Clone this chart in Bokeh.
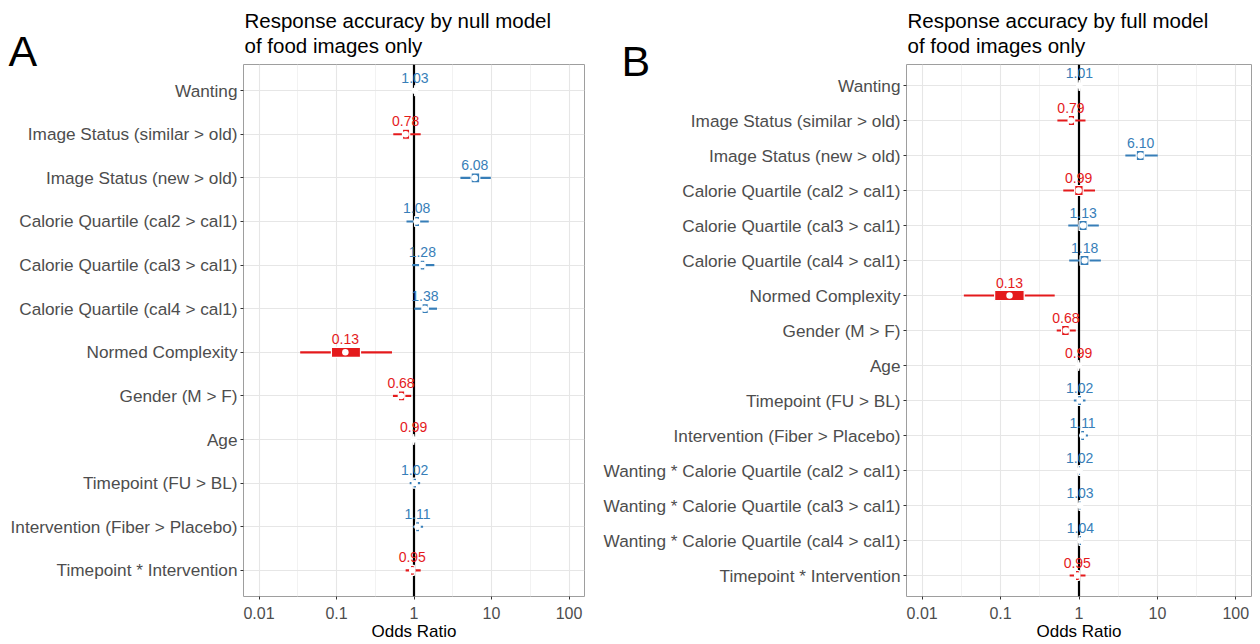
import numpy as np
from bokeh.plotting import figure
from bokeh.models import (FixedTicker, CustomJSTickFormatter, Span, ColumnDataSource, GridBox)
from bokeh.core.properties import value
from bokeh.embed import file_html
from bokeh.resources import INLINE

# ---------------- data ----------------
labels_a = ["Wanting", "Image Status (similar > old)", "Image Status (new > old)",
            "Calorie Quartile (cal2 > cal1)", "Calorie Quartile (cal3 > cal1)",
            "Calorie Quartile (cal4 > cal1)", "Normed Complexity", "Gender (M > F)", "Age",
            "Timepoint (FU > BL)", "Intervention (Fiber > Placebo)", "Timepoint * Intervention"]
est_a = [1.03, 0.78, 6.08, 1.08, 1.28, 1.38, 0.13, 0.68, 0.99, 1.02, 1.11, 0.95]
lo_a = [1.01, 0.54, 3.97, 0.80, 0.95, 1.01, 0.034, 0.535, 0.98, 0.88, 0.97, 0.78]
hi_a = [1.05, 1.22, 9.80, 1.55, 1.83, 1.98, 0.52, 0.92, 1.00, 1.20, 1.31, 1.22]
ilo_a = [1.02, 0.71, 5.46, 1.02, 1.20, 1.27, 0.086, 0.63, 0.985, 0.97, 1.05, 0.90]
ihi_a = [1.04, 0.88, 7.06, 1.18, 1.38, 1.53, 0.204, 0.76, 0.995, 1.08, 1.18, 1.01]

labels_b = ["Wanting", "Image Status (similar > old)", "Image Status (new > old)",
            "Calorie Quartile (cal2 > cal1)", "Calorie Quartile (cal3 > cal1)",
            "Calorie Quartile (cal4 > cal1)", "Normed Complexity", "Gender (M > F)", "Age",
            "Timepoint (FU > BL)", "Intervention (Fiber > Placebo)",
            "Wanting * Calorie Quartile (cal2 > cal1)", "Wanting * Calorie Quartile (cal3 > cal1)",
            "Wanting * Calorie Quartile (cal4 > cal1)", "Timepoint * Intervention"]
est_b = [1.01, 0.79, 6.10, 0.99, 1.13, 1.18, 0.13, 0.68, 0.99, 1.02, 1.11, 1.02, 1.03, 1.04, 0.95]
lo_b = [0.99, 0.53, 3.90, 0.63, 0.73, 0.75, 0.034, 0.52, 0.98, 0.86, 1.00, 0.95, 0.96, 0.96, 0.76]
hi_b = [1.03, 1.21, 10.1, 1.60, 1.79, 1.90, 0.49, 0.91, 1.00, 1.21, 1.30, 1.10, 1.11, 1.13, 1.21]
ilo_b = [1.00, 0.73, 5.37, 0.88, 1.00, 1.03, 0.084, 0.60, 0.985, 0.96, 1.05, 0.99, 1.00, 1.00, 0.90]
ihi_b = [1.02, 0.88, 6.78, 1.13, 1.27, 1.34, 0.20, 0.75, 0.995, 1.08, 1.18, 1.05, 1.06, 1.08, 1.01]

x_ticks = [0.01, 0.1, 1, 10, 100]
x_tick_labels = ["0.01", "0.1", "1", "10", "100"]
x_minor = [10 ** -2.5, 10 ** -1.5, 10 ** -0.5, 10 ** 0.5, 10 ** 1.5, 10 ** 2.5]

title_a = "Response accuracy by null model\n of food images only"
title_b = "Response accuracy by full model\n of food images only"
letter_a = "A"
letter_b = "B"

RED = "#E41A1C"
BLUE = "#377EB8"
FONT = "Liberation Sans"

H = 644
TOP, BOTTOM = 63, 48


def make_panel(labels, est, lo, hi, ilo, ihi, title, width, left, right):
    n = len(labels)
    ys = [n - i for i in range(n)]
    colors = [BLUE if e > 1 else RED for e in est]
    texts = [f"{e:.2f}" for e in est]
    mid = [(a + b) / 2 for a, b in zip(ilo, ihi)]
    wid = [b - a for a, b in zip(ilo, ihi)]
    src = ColumnDataSource(dict(y=ys, est=est, lo=lo, hi=hi, mid=mid, wid=wid,
                                color=colors, txt=texts))
    p = figure(width=width, height=H, x_axis_type="log",
               x_range=(10 ** -2.2, 10 ** 2.2), y_range=(0.4, n + 0.6),
               output_backend="svg", toolbar_location=None,
               min_border_left=left, min_border_right=right,
               min_border_top=TOP, min_border_bottom=BOTTOM)
    p.background_fill_color = "white"
    p.border_fill_color = None
    p.outline_line_color = "#9E9E9E"
    p.outline_line_width = 1

    # title
    p.title.text = title
    p.title.text_font = FONT
    p.title.text_font_size = "20.5px"
    p.title.text_font_style = "normal"
    p.title.text_color = "black"
    p.title.align = "left"
    p.title.offset = 1
    p.title.standoff = 14
    p.title.text_line_height = 1.1

    # grids
    p.xgrid.ticker = FixedTicker(ticks=x_ticks, minor_ticks=x_minor)
    p.xgrid.grid_line_color = "#E6E6E6"
    p.xgrid.grid_line_width = 1.1
    p.xgrid.minor_grid_line_color = "#F2F2F2"
    p.xgrid.minor_grid_line_width = 1
    p.ygrid.ticker = FixedTicker(ticks=ys)
    p.ygrid.grid_line_color = "#E6E6E6"
    p.ygrid.grid_line_width = 1.1

    # axes
    p.xaxis.ticker = FixedTicker(ticks=x_ticks, minor_ticks=[])
    p.xaxis.formatter = CustomJSTickFormatter(
        args=dict(vals=x_ticks, labs=x_tick_labels),
        code="for (let i = 0; i < vals.length; i++) {"
             " if (Math.abs(Math.log10(tick) - Math.log10(vals[i])) < 1e-6) return labs[i]; }"
             " return '';")
    p.yaxis.ticker = FixedTicker(ticks=ys, minor_ticks=[])
    p.yaxis.formatter = CustomJSTickFormatter(
        args=dict(labs=labels, n=n),
        code="const i = Math.round(n - tick); return (i >= 0 && i < labs.length) ? labs[i] : '';")
    for ax in (p.xaxis[0], p.yaxis[0]):
        ax.axis_line_color = None
        ax.major_tick_line_color = "#333333"
        ax.major_tick_out = 3
        ax.major_tick_in = 0
        ax.minor_tick_line_color = None
        ax.major_label_text_font = FONT
        ax.major_label_text_color = "#4D4D4D"
    p.yaxis.major_label_standoff = 3
    p.xaxis.major_label_standoff = 7
    p.yaxis.major_label_text_font_size = "17.2px"
    p.xaxis.major_label_text_font_size = "16px"
    p.xaxis.axis_label = "Odds Ratio"
    p.xaxis.axis_label_text_font = FONT
    p.xaxis.axis_label_text_font_size = "17px"
    p.xaxis.axis_label_text_font_style = "normal"
    p.xaxis.axis_label_text_color = "black"
    p.xaxis.axis_label_standoff = 0

    # reference line at OR = 1
    p.add_layout(Span(location=1, dimension="height", line_color="black",
                      line_width=2.2, level="underlay"))

    # intervals, boxes, points, labels
    p.segment(x0="lo", x1="hi", y0="y", y1="y", line_color="color", line_width=2.2, source=src)
    p.rect(x="mid", y="y", width="wid", height=10, height_units="screen",
           fill_color="color", line_color="white", line_width=1.2, source=src)
    p.scatter(x="est", y="y", size=6.5, fill_color="white", line_color=None, source=src)
    p.text(x="est", y="y", text="txt", text_color="color", text_font=value(FONT),
           text_font_size="14px", text_align="center", text_baseline="bottom",
           y_offset=-8, source=src)
    return p


def make_letter(letter, width, left, right, offset, standoff):
    # empty canvas below a panel, carrying only the panel letter as its title
    f = figure(width=width, height=H, output_backend="svg", toolbar_location=None,
               x_axis_location=None, y_axis_location=None,
               min_border_left=left, min_border_right=right,
               min_border_top=TOP, min_border_bottom=BOTTOM)
    f.grid.visible = False
    f.outline_line_color = None
    f.background_fill_color = None
    f.border_fill_color = "white"
    f.title.text = letter
    f.title.text_font = FONT
    f.title.text_font_size = "43px"
    f.title.text_font_style = "normal"
    f.title.text_color = "black"
    f.title.align = "left"
    f.title.offset = offset
    f.title.standoff = standoff
    return f


pA = make_panel(labels_a, est_a, lo_a, hi_a, ilo_a, ihi_a, title_a,
                width=600, left=243, right=16)
pB = make_panel(labels_b, est_b, lo_b, hi_b, ilo_b, ihi_b, title_b,
                width=660, left=303, right=9)
lA = make_letter(letter_a, 600, 243, 16, offset=-235, standoff=-20)
lB = make_letter(letter_b, 660, 303, 9, offset=-285, standoff=-40)

layout = GridBox(children=[(lA, 0, 0), (lB, 0, 1), (pA, 0, 0), (pB, 0, 1)])
open("out.html", "w").write(file_html(layout, INLINE))
